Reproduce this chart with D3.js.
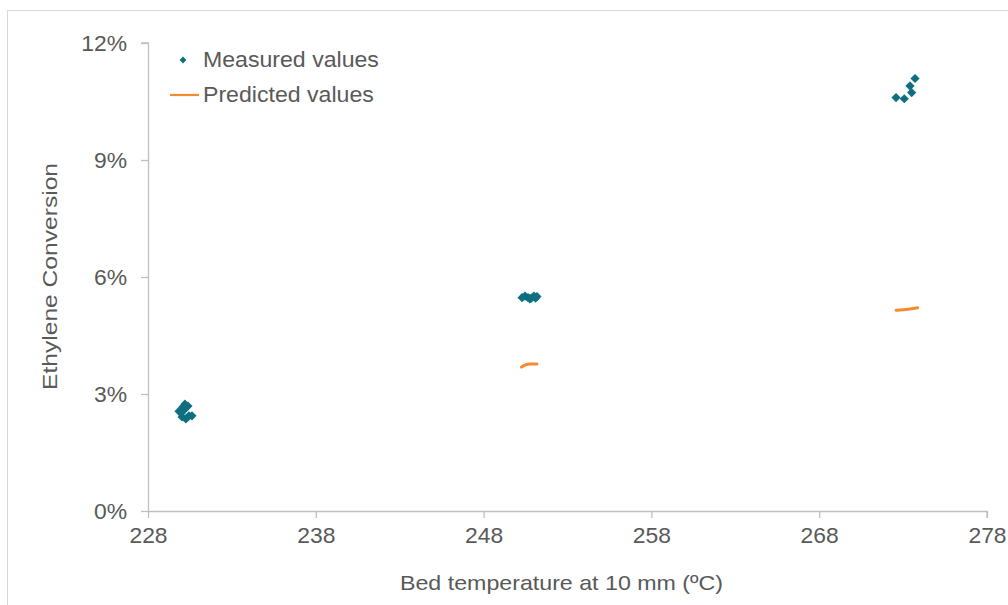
<!DOCTYPE html>
<html>
<head>
<meta charset="utf-8">
<script src="https://cdn.jsdelivr.net/npm/d3@7"></script>
<style>
  html, body { margin: 0; padding: 0; background: #fff; }
  svg { display: block; font-family: "Liberation Sans", Arial, sans-serif; }
</style>
</head>
<body>
<svg id="chart" width="1008" height="605"></svg>
<script>
// Measured ethylene conversion, [bed temperature °C, conversion fraction]
const measured = [
  // ~230 °C run
  [230.20, 0.0274], [230.38, 0.0269], [230.09, 0.0267], [229.85, 0.0256],
  [229.97, 0.0251], [230.03, 0.0241], [230.26, 0.0236], [230.44, 0.0244],
  [230.62, 0.0244], [230.15, 0.0259],
  // ~251 °C run
  [250.29, 0.0547], [250.47, 0.0551], [250.65, 0.0547], [250.83, 0.0545],
  [251.00, 0.0551], [251.18, 0.0550], [250.75, 0.0544], [251.10, 0.0546],
  // ~273 °C run
  [272.58, 0.1060], [273.07, 0.1057], [273.51, 0.1073], [273.41, 0.1090],
  [273.71, 0.1109]
];

// Model predictions, one short line per run
const predicted = [
  [[229.80, 0.0258], [230.00, 0.0261], [230.25, 0.0265]],
  [[250.26, 0.0369], [250.46, 0.0374], [250.76, 0.0377], [251.18, 0.0377]],
  [[272.58, 0.0515], [273.00, 0.0516], [273.40, 0.0518], [273.87, 0.0521]]
];

const xTicks = [228, 238, 248, 258, 268, 278];
const yTicks = [0, 0.03, 0.06, 0.09, 0.12];
const seriesNames = ["Measured values", "Predicted values"];

const teal = "#0F6F80";
const orange = "#F58A2E";
const textColor = "#595959";
const axisColor = "#BFBFBF";

const svg = d3.select("#chart");

// outer chart frame
svg.append("rect")
  .attr("x", 7.5).attr("y", 10.5)
  .attr("width", 1010).attr("height", 610)
  .attr("fill", "none").attr("stroke", "#D9D9D9");

const x = d3.scaleLinear().domain([228, 278]).range([148, 987]);
const y = d3.scaleLinear().domain([0, 0.12]).range([511, 43]);

// stretch text horizontally a little
function widen(sel, k) {
  sel.each(function() {
    const w = this.getComputedTextLength();
    d3.select(this).attr("textLength", w * k).attr("lengthAdjust", "spacingAndGlyphs");
  });
}

// x axis
const xAxis = svg.append("g")
  .attr("transform", `translate(0,${y(0)})`)
  .call(d3.axisBottom(x).tickValues(xTicks).tickSize(7).tickPadding(9).tickFormat(d3.format("d")));
xAxis.select(".domain").attr("stroke", axisColor).attr("stroke-width", 1.3).attr("d", `M${x(228)},0.5H${x(278)}V7`);
xAxis.selectAll(".tick line").attr("stroke", axisColor).attr("stroke-width", 1.3);
xAxis.selectAll(".tick text")
  .attr("fill", textColor).attr("font-size", 22).attr("font-family", "Liberation Sans, Arial, sans-serif")
  .call(widen, 1.04);

// y axis
const yAxis = svg.append("g")
  .attr("transform", `translate(${x(228)},0)`)
  .call(d3.axisLeft(y).tickValues(yTicks).tickSize(7).tickPadding(14).tickFormat(d3.format(".0%")));
yAxis.select(".domain").attr("stroke", axisColor).attr("stroke-width", 1.3).attr("d", `M-7,${y(0.12)}H0.5V${y(0)}`);
yAxis.selectAll(".tick line").attr("stroke", axisColor).attr("stroke-width", 1.3);
yAxis.selectAll(".tick text")
  .attr("fill", textColor).attr("font-size", 22).attr("font-family", "Liberation Sans, Arial, sans-serif")
  .call(widen, 1.04);

// predicted lines
const line = d3.line().x(d => x(d[0])).y(d => y(d[1])).curve(d3.curveMonotoneX);
svg.append("g").selectAll("path")
  .data(predicted)
  .join("path")
  .attr("d", line)
  .attr("fill", "none")
  .attr("stroke", orange)
  .attr("stroke-width", 3)
  .attr("stroke-linecap", "round");

// measured diamonds
const diamond = r => `M0,${-r}L${r},0L0,${r}L${-r},0Z`;
svg.append("g").selectAll("path")
  .data(measured)
  .join("path")
  .attr("transform", d => `translate(${x(d[0])},${y(d[1])})`)
  .attr("d", diamond(4.6))
  .attr("fill", teal);

// legend
const legend = svg.append("g");
legend.append("path").attr("transform", "translate(183,60)").attr("d", diamond(3.4)).attr("fill", teal);
legend.append("line").attr("x1", 170).attr("x2", 199).attr("y1", 95).attr("y2", 95)
  .attr("stroke", orange).attr("stroke-width", 2.2);
legend.selectAll("text")
  .data(seriesNames)
  .join("text")
  .attr("x", 203)
  .attr("y", (d, i) => i === 0 ? 67 : 102)
  .attr("fill", textColor)
  .attr("font-size", 22)
  .text(d => d)
  .call(widen, 1.05);

// axis titles
svg.append("text")
  .attr("x", 400).attr("y", 590)
  .attr("fill", textColor).attr("font-size", 21)
  .attr("textLength", 323).attr("lengthAdjust", "spacingAndGlyphs")
  .text("Bed temperature at 10 mm (\u00BAC)");

svg.append("text")
  .attr("transform", "translate(57,276.5) rotate(-90)")
  .attr("text-anchor", "middle")
  .attr("fill", textColor).attr("font-size", 21)
  .attr("textLength", 227).attr("lengthAdjust", "spacingAndGlyphs")
  .text("Ethylene Conversion");
</script>
</body>
</html>
